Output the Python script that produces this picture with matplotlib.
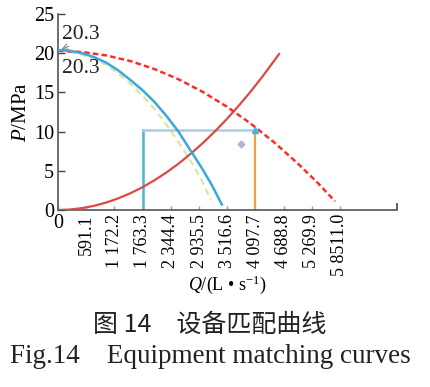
import matplotlib
matplotlib.use("Agg")
import matplotlib.pyplot as plt

# ---- data ----
tick_q = [0, 591.1, 1172.2, 1763.3, 2344.4, 2935.5, 3516.6, 4097.7, 4688.8, 5269.9, 5851.0]
tick_labels = ["0", "591.1", "1 172.2", "1 763.3", "2 344.4", "2 935.5", "3 516.6",
               "4 097.7", "4 688.8", "5 269.9", "5 8511.0"]
y_ticks = [0, 5, 10, 15, 20, 25]

sys_q = [0, 250, 500, 750, 1000, 1250, 1500, 1750, 2000, 2250, 2500, 2750, 3000,
         3250, 3500, 3750, 4000, 4250, 4590]
sys_p = [0, 0.06, 0.24, 0.53, 0.95, 1.48, 2.13, 2.89, 3.78, 4.78, 5.9, 7.15, 8.5,
         9.98, 11.58, 13.29, 15.12, 17.07, 19.9]

pump_dash_q = [0, 500, 1000, 1500, 2000, 2500, 3000, 3500, 4000, 4500, 5000, 5400, 5750]
pump_dash_p = [20.3, 20.15, 19.72, 19.0, 17.98, 16.68, 15.08, 13.2, 11.02, 8.56, 5.8, 3.4, 1.1]

blue_q = [0, 250, 500, 750, 1000, 1250, 1500, 1750, 2000, 2250, 2500, 2750, 3000, 3200, 3400]
blue_p = [20.4, 20.3, 20.0, 19.5, 18.8, 17.8, 16.6, 15.3, 13.8, 12.0, 10.0, 7.6, 5.2, 3.1, 0.7]

green_q = [0, 250, 500, 750, 1000, 1250, 1500, 1750, 2000, 2250, 2500, 2750, 3000, 3170]
green_p = [20.3, 20.2, 19.8, 19.3, 18.5, 17.4, 16.1, 14.6, 12.9, 10.9, 8.7, 6.3, 3.6, 1.3]

rect_q = [1763.3, 4097.7]
rect_p = 10.2
diamond_q, diamond_p = 3791, 8.4

serif = ["Liberation Serif", "Noto Sans CJK SC", "DejaVu Serif"]
plt.rcParams["font.family"] = serif
plt.rcParams["mathtext.fontset"] = "custom"
plt.rcParams["mathtext.it"] = "Liberation Serif:italic"
plt.rcParams["mathtext.rm"] = "Liberation Serif"

fig = plt.figure(figsize=(4.31, 3.87), dpi=100)
ax = fig.add_axes([0.1346, 0.4574, 0.7858, 0.5064])

ax.plot(sys_q, sys_p, color="#dc4a43", lw=1.6, zorder=3)
ax.plot(pump_dash_q, pump_dash_p, color="#ff2a2a", lw=1.8, ls=(0, (2.2, 1.3)), zorder=3)
ax.plot(green_q, green_p, color="#d6e8a4", lw=1.6, ls=(0, (3, 2)), zorder=2)
ax.plot(blue_q, blue_p, color="#3aa8dc", lw=1.8, zorder=3)

ax.plot([rect_q[0], rect_q[0]], [0, rect_p], color="#4ab5cc", lw=1.8, zorder=2)
ax.plot([rect_q[0], rect_q[1]], [rect_p, rect_p], color="#a9cde8", lw=1.8, zorder=2)
ax.plot([rect_q[1], rect_q[1]], [0, rect_p], color="#f5a040", lw=1.6, zorder=2)
ax.plot([rect_q[1]], [rect_p], marker="^", color="#3ab8e0", ms=5, zorder=4)
ax.plot([diamond_q], [diamond_p], marker="D", color="#b8b0d8", ms=3.5, zorder=4)

ax.text(80, 22.4, "20.3", fontsize=15.5, va="center", ha="left", color="#222222")
ax.text(80, 18.1, "20.3", fontsize=15.5, va="center", ha="left", color="#222222")
ax.annotate("", xy=(15, 20.4), xytext=(280, 21.0),
            arrowprops=dict(arrowstyle="->", color="#888888", lw=0.8))

ax.set_xlim(0, 7030)
ax.set_ylim(0, 25)
for s in ["top", "right"]:
    ax.spines[s].set_visible(False)
for s in ["left", "bottom"]:
    ax.spines[s].set_color("#555555")
    ax.spines[s].set_linewidth(1.2)

ax.set_yticks(y_ticks)
ax.set_yticklabels([str(v) for v in y_ticks], fontsize=14.5)
ax.tick_params(axis="y", direction="in", length=5, width=1.0, color="#444444", pad=3)

ax.set_xticks(tick_q)
ax.set_xticklabels(tick_labels, fontsize=13)
for i, lab in enumerate(ax.get_xticklabels()):
    if i == 0:
        lab.set_rotation(0)
        lab.set_fontsize(14.5)
    else:
        lab.set_rotation(90)
    lab.set_va("top")
    lab.set_ha("center")
ax.tick_params(axis="x", direction="in", length=3, width=1.0, color="#9a90d0", pad=3)
ax.set_xticks([7030], minor=True)
ax.tick_params(axis="x", which="minor", direction="in", length=5, width=1.2, color="#444444")

ax.set_ylabel("$P$/MPa", fontsize=15, labelpad=2)
ax.set_xlabel("$Q$/(L • s$^{-1}$)", fontsize=13, labelpad=-2)

fig.text(0.487, 0.160, "图 14　设备匹配曲线", fontsize=18, ha="center", va="center",
         family=["Noto Sans CJK SC", "DejaVu Sans"], color="#222222")
fig.text(0.487, 0.078, "Fig.14　Equipment matching curves", fontsize=19.5, ha="center",
         va="center", family=serif, color="#222222")

fig.savefig("out.png", dpi=100, facecolor="white")
